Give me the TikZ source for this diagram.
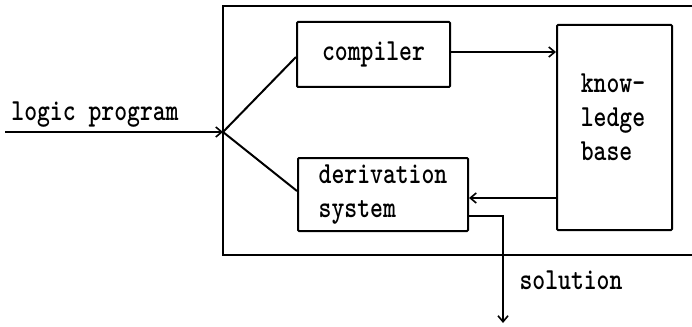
\documentclass[tikz,border=0pt]{standalone}
\usepackage{graphicx}
\usetikzlibrary{arrows.meta}
\newcommand\tw[1]{\scalebox{1}[1.25]{#1}}
\begin{document}
\begin{tikzpicture}[x=1pt,y=-1pt,
  every node/.style={font=\fontsize{24.5}{34}\selectfont\ttfamily\bfseries},
  blk/.style={draw,line width=2pt,rounded corners=1pt,inner sep=0pt,align=left},
  conn/.style={line width=2pt},
  arr/.style={conn,-{Straight Barb[length=6pt,width=10pt,line width=1.6pt]}},
  lbl/.style={inner sep=0pt,anchor=base}]
\useasboundingbox (0,0) rectangle (692,326);
% outer system box (right side outside the picture)
\draw[conn] (692,6) -- (223,6) -- (223,255) -- (692,255);
\node[blk,minimum width=153pt,minimum height=65pt] (comp) at (373.5,54.5) {\tw{compiler}};
\node[blk,minimum width=170pt,minimum height=73pt] (der) at (383,194.5) {\tw{derivation}\\\tw{system}};
\node[blk,minimum width=115pt,minimum height=205pt] (kb) at (614.5,127.5) {};
\node[inner sep=0pt,align=left] (kbtxt) at (613,117) {\tw{know-}\\\tw{ledge}\\\tw{base}};
\coordinate (in) at (5,132);
\coordinate (junc) at (223,132);
\coordinate (sol) at (503,323);
\node[lbl] (lp) at (95,120) {\tw{logic program}};
\node[lbl] (soltxt) at (571,289) {\tw{solution}};
\draw[arr] (in) -- (junc);
\draw[conn] (junc) -- (comp.west |- 0,57);
\draw[conn] (junc) -- (der.west |- 0,191);
\draw[arr] (comp.east |- 0,52) -- (kb.west |- 0,52);
\draw[arr] (kb.west |- 0,198) -- (der.east |- 0,198);
\draw[arr] (der.east |- 0,216) -| (sol);
\end{tikzpicture}
\end{document}
